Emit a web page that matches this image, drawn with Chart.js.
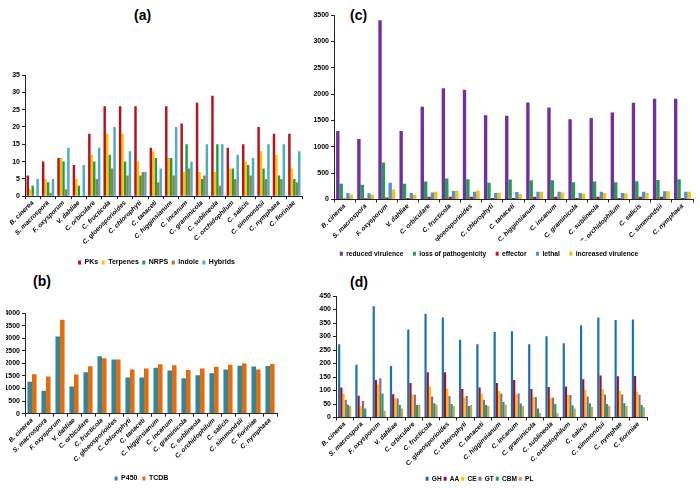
<!DOCTYPE html>
<html>
<head>
<meta charset="utf-8">
<script src="https://cdn.jsdelivr.net/npm/chart.js@4.4.0/dist/chart.umd.min.js"></script>
<style>
    html, body { margin: 0; padding: 0; background: #fff; overflow: hidden; }
    body { width: 700px; height: 488px; position: relative; }
    canvas { position: absolute; }
    .tag { position: absolute; font: bold 14px Arial, "Liberation Sans", sans-serif; line-height: 14px; color: #000; }
</style>
</head>
<body>
<div class="tag" style="left:134px; top:8px;">(a)</div>
<div class="tag" style="left:33px; top:274px;">(b)</div>
<div class="tag" style="left:350px; top:8px;">(c)</div>
<div class="tag" style="left:350px; top:275px;">(d)</div>

<canvas id="chart-a" width="314" height="276" style="left:0; top:0;"></canvas>
<canvas id="chart-b" width="284" height="202" style="left:0; top:290px;"></canvas>
<canvas id="chart-c" width="420" height="267" style="left:280px; top:0;"></canvas>
<canvas id="chart-d" width="410" height="212" style="left:280px; top:280px;"></canvas>

<script>
// ---- (a) secondary metabolite clusters ----
const speciesA = ['B. cinerea', 'S. macrospora', 'F. oxysporum', 'V. dahliae', 'C. orbiculare', 'C. fructicola',
    'C. gloeosporioides', 'C. chlorophyti', 'C. tanaceti', 'C. higginsianum', 'C. incanum', 'C. graminicola',
    'C. sublineola', 'C. orchidophilum', 'C. salicis', 'C. simmondsii', 'C. nymphaea', 'C. fioriniae'];
const pks      = [6, 10, 11, 9, 18, 26, 26, 26, 14, 26, 21, 27, 29, 14, 15, 20, 18, 18];
const terpenes = [2, 5, 11, 5, 12, 18, 18, 10, 13, 11, 7, 7, 7, 8, 10, 13, 12, 8];
const nrps     = [3, 4, 10, 3, 10, 12, 10, 6, 11, 11, 15, 5, 15, 8, 9, 8, 6, 5];
const indole   = [0, 1, 2, 0, 5, 8, 6, 7, 4, 6, 8, 6, 3, 5, 6, 5, 5, 4];
const hybrids  = [5, 5, 14, 9, 14, 20, 13, 7, 8, 20, 10, 15, 15, 12, 11, 15, 15, 13];
const ticksA   = [0, 5, 10, 15, 20, 25, 30, 35];

// ---- (b) P450 / transporters ----
const speciesB = ['B. cinerea', 'S. macrospora', 'F. oxysporum', 'V. dahliae', 'C. orbiculare', 'C. fructicola',
    'C. gloeosporioides', 'C. chlorophyti', 'C. tanaceti', 'C. higginsianum', 'C. incanum', 'C. graminicola',
    'C. sublineola', 'C. orchidophilum', 'C. salicis', 'C. simmondsii', 'C. fioriniae', 'C. nymphaea'];
const p450 = [1270, 910, 3070, 1080, 1650, 2280, 2150, 1440, 1440, 1830, 1720, 1410, 1530, 1610, 1760, 1900, 1870, 1890];
const tcdb = [1570, 1480, 3730, 1560, 1880, 2200, 2150, 1760, 1800, 1960, 1920, 1740, 1800, 1860, 1940, 1990, 1760, 1970];
const ticksB = [0, 500, 1000, 1500, 2000, 2500, 3000, 3500, 4000];

// ---- (c) PHI phenotypes ----
const speciesC = ['B. cinerea', 'S. macrospora', 'F. oxysporum', 'V. dahliae', 'C. orbiculare', 'C. fructicola',
    'C. gloeosporioides', 'C. chlorophyti', 'C. tanaceti', 'C. higginsianum', 'C. incanum', 'C. graminicola',
    'C. sublineola', 'C. orchidophilum', 'C. salicis', 'C. simmondsii', 'C. nymphaea'];
const reducedVirulence    = [1300, 1150, 3400, 1300, 1760, 2110, 2080, 1600, 1590, 1840, 1745, 1520, 1545, 1650, 1835, 1910, 1910];
const lossOfPathogenicity = [300, 280, 700, 300, 340, 400, 385, 320, 380, 365, 365, 325, 340, 325, 345, 370, 385];
const effector            = [20, 25, 40, 30, 50, 50, 50, 30, 30, 50, 50, 30, 50, 30, 50, 50, 30];
const lethal              = [125, 120, 320, 125, 135, 160, 145, 125, 140, 145, 145, 125, 145, 125, 145, 155, 145];
const increasedVirulence  = [90, 90, 190, 90, 145, 165, 170, 125, 105, 145, 135, 110, 125, 120, 125, 155, 145];
const ticksC = [0, 500, 1000, 1500, 2000, 2500, 3000, 3500];

// ---- (d) CAZymes ----
const speciesD = ['B. cinerea', 'S. macrospora', 'F. oxysporum', 'V. dahliae', 'C. orbiculare', 'C. fructicola',
    'C. gloeosporioides', 'C. chlorophyti', 'C. tanaceti', 'C. higginsianum', 'C. incanum', 'C. graminicola',
    'C. sublineola', 'C. orchidophilum', 'C. salicis', 'C. simmondsii', 'C. nymphae', 'C. fioriniae'];
const gh  = [271, 195, 412, 191, 326, 384, 370, 288, 271, 317, 319, 271, 301, 275, 342, 370, 361, 363];
const aa  = [111, 81, 139, 86, 128, 168, 168, 106, 111, 128, 139, 106, 113, 115, 142, 156, 153, 154];
const ce  = [88, 42, 122, 71, 85, 115, 107, 74, 88, 98, 85, 75, 73, 83, 102, 106, 99, 95];
const gt  = [66, 61, 145, 70, 84, 78, 80, 80, 66, 89, 89, 76, 73, 83, 78, 85, 85, 84];
const cbm = [47, 33, 89, 46, 46, 53, 50, 43, 46, 57, 52, 33, 50, 45, 53, 50, 53, 46];
const pl  = [43, 3, 25, 33, 46, 47, 43, 46, 43, 47, 43, 17, 17, 33, 39, 43, 43, 38];
const ticksD = [0, 50, 100, 150, 200, 250, 300, 350, 400, 450];

Chart.defaults.font.family = 'Arial, "Liberation Sans", sans-serif';
Chart.defaults.color = '#000';

/**
 * Excel-like grouped bar chart, no gridlines, fixed axis sizes
 * so the plot area lands where the original figure has it.
 */
function buildChart(id, labels, series, cfg) {
    const ticks = cfg.ticks;
    return new Chart(document.getElementById(id), {
        type: 'bar',
        data: {
            labels: labels,
            datasets: series.map(s => ({
                label: s[0],
                data: s[1],
                backgroundColor: s[2],
                borderWidth: 0,
                categoryPercentage: cfg.catPct,
                barPercentage: 1
            }))
        },
        options: {
            responsive: false,
            animation: false,
            layout: { padding: cfg.padding },
            plugins: {
                legend: {
                    position: 'bottom',
                    labels: {
                        boxWidth: 3,
                        boxHeight: 4,
                        padding: cfg.legendGap,
                        font: { size: cfg.legendFont, weight: 'bold' }
                    }
                },
                tooltip: { enabled: false }
            },
            scales: {
                x: {
                    grid: { drawOnChartArea: false, offset: true, tickLength: 3, color: '#222' },
                    border: { color: '#222' },
                    ticks: {
                        autoSkip: false,
                        minRotation: 45,
                        maxRotation: 45,
                        padding: 0,
                        font: { size: 6.5, weight: 'bold', style: 'italic' }
                    },
                    afterFit: s => { s.height = cfg.xH; s.paddingLeft = 0; s.paddingRight = 0; }
                },
                y: {
                    min: ticks[0],
                    max: ticks[ticks.length - 1],
                    ticks: {
                        stepSize: ticks[1] - ticks[0],
                        padding: 2,
                        font: { size: 7, weight: 'bold' },
                        callback: v => String(v)
                    },
                    grid: { drawOnChartArea: false, tickLength: 3, color: '#222' },
                    border: { color: '#222' },
                    afterFit: s => { s.width = cfg.yW; }
                }
            }
        }
    });
}

buildChart('chart-a', speciesA, [
    ['PKs', pks, '#B8121B'],
    ['Terpenes', terpenes, '#FFC000'],
    ['NRPS', nrps, '#1FA040'],
    ['Indole', indole, '#A07A3E'],
    ['Hybrids', hybrids, '#4BACC6']
], { ticks: ticksA, catPct: 0.8, yW: 14, xH: 59.3, legendGap: 3.5, legendFont: 7,
     padding: { top: 75, left: 11, right: 12, bottom: 0 } });

buildChart('chart-b', speciesB, [
    ['P450', p450, '#31859C'],
    ['TCDB', tcdb, '#E46C0A']
], { ticks: ticksB, catPct: 0.65, yW: 19, xH: 56.3, legendGap: 5, legendFont: 7,
     padding: { top: 23, left: 6, right: 7, bottom: 0 } });

buildChart('chart-c', speciesC, [
    ['reduced virulence', reducedVirulence, '#7030A0'],
    ['loss of pathogenicity', lossOfPathogenicity, '#1FA050'],
    ['effector', effector, '#D01020'],
    ['lethal', lethal, '#558ED5'],
    ['increased virulence', increasedVirulence, '#FFC000']
], { ticks: ticksC, catPct: 0.8, yW: 49, xH: 41.3, legendGap: 9.5, legendFont: 6.7,
     padding: { top: 15, left: 5, right: 7, bottom: 0 } });

buildChart('chart-d', speciesD, [
    ['GH', gh, '#1F6FB5'],
    ['AA', aa, '#A0102A'],
    ['CE', ce, '#FFC000'],
    ['GT', gt, '#7F6A9A'],
    ['CBM', cbm, '#1FA050'],
    ['PL', pl, '#D99A5B']
], { ticks: ticksD, catPct: 0.76, yW: 24, xH: 56, legendGap: 2, legendFont: 6.5,
     padding: { top: 16, left: 32, right: 43, bottom: 0 } });
</script>
</body>
</html>
